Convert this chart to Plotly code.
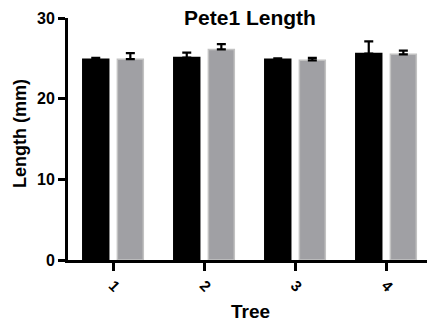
import plotly.graph_objects as go

trees = ["1", "2", "3", "4"]
black_vals = [24.9, 25.1, 24.9, 25.6]
black_err = [0.15, 0.6, 0.1, 1.5]
gray_vals = [24.9, 26.1, 24.75, 25.5]
gray_err = [0.75, 0.65, 0.3, 0.45]
y_ticks = [0, 10, 20, 30]

FONT = "Liberation Sans, Arial, sans-serif"
W, H = 427, 323
L, R, T, B = 68, 0, 18, 63

fig = go.Figure()
fig.add_trace(go.Bar(
    x=trees, y=black_vals, name="A",
    marker=dict(color="#000000", line=dict(color="#000000", width=1.5)),
    error_y=dict(type="data", array=black_err, arrayminus=[0]*4, symmetric=False,
                 color="#000000", thickness=2.2, width=4.5),
))
fig.add_trace(go.Bar(
    x=trees, y=gray_vals, name="B",
    marker=dict(color="#A0A0A4", line=dict(color="#C2C2C2", width=1.5)),
    error_y=dict(type="data", array=gray_err, arrayminus=[0]*4, symmetric=False,
                 color="#000000", thickness=2.2, width=4.5),
))

fig.update_layout(
    width=W, height=H,
    margin=dict(l=L, r=R, t=T, b=B),
    paper_bgcolor="white", plot_bgcolor="white",
    barmode="group", bargap=0.24, bargroupgap=0.25,
    showlegend=False,
    font=dict(family=FONT, color="#000000"),
    title=dict(text="Pete1 Length", x=250 / W, xref="container", xanchor="center",
               y=1 - 18 / H, yref="container", yanchor="middle",
               font=dict(size=21, family=FONT, color="#000000", weight="bold")),
)
fig.update_xaxes(
    range=[-0.495, 3.45], showgrid=False, zeroline=False,
    showline=True, linecolor="#000000", linewidth=3,
    ticks="outside", ticklen=8, tickwidth=3, tickcolor="#000000",
    tickangle=45, tickfont=dict(size=15, family=FONT, color="#000000", weight="bold"),
)
fig.update_yaxes(
    range=[0, 30], tickvals=y_ticks, showgrid=False, zeroline=False,
    showline=True, linecolor="#000000", linewidth=3,
    ticks="outside", ticklen=7, tickwidth=3, tickcolor="#000000",
    tickfont=dict(size=16, family=FONT, color="#000000", weight="bold"),
)

pw = W - L - R
ph = H - T - B
fig.add_annotation(text="Tree", xref="paper", yref="paper",
                   x=(250 - L) / pw, y=(H - B - 311) / ph,
                   xanchor="center", yanchor="middle", showarrow=False,
                   font=dict(size=19, family=FONT, color="#000000", weight="bold"))
fig.add_annotation(text="Length (mm)", xref="paper", yref="paper",
                   x=(20 - L) / pw, y=(H - B - 134) / ph, textangle=-90,
                   xanchor="center", yanchor="middle", showarrow=False,
                   font=dict(size=18, family=FONT, color="#000000", weight="bold"))

fig.write_html("out.html")
